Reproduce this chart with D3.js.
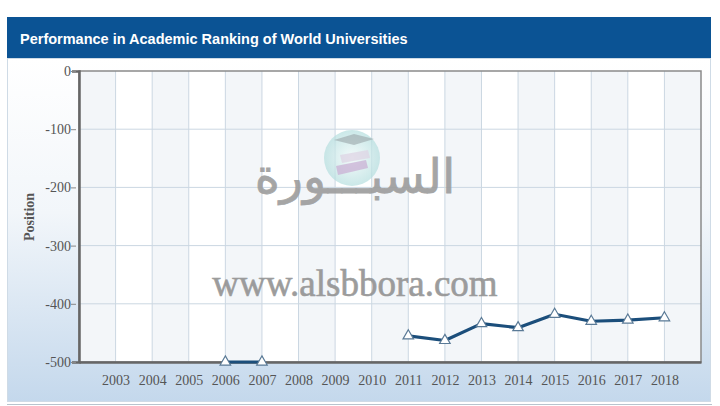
<!DOCTYPE html>
<html>
<head>
<meta charset="utf-8">
<script src="https://cdn.jsdelivr.net/npm/d3@7/dist/d3.min.js"></script>
<style>
  html, body { margin: 0; padding: 0; background: #fff; }
  svg { display: block; }
</style>
</head>
<body>
<svg id="chart" width="720" height="406"></svg>
<script>
// ---- Data ----
const titleText = "Performance in Academic Ranking of World Universities";
const yAxisLabel = "Position";
const years = [2003, 2004, 2005, 2006, 2007, 2008, 2009, 2010, 2011, 2012, 2013, 2014, 2015, 2016, 2017, 2018];
const positions = [null, null, null, -500, -500, null, null, null, -455, -463, -434, -441, -418, -430, -428, -424];
const yTicks = [0, -100, -200, -300, -400, -500];
const watermarkArabic = "السبـــورة";
const watermarkUrl = "www.alsbbora.com";

const svg = d3.select("#chart");
const defs = svg.append("defs");

const grad = defs.append("linearGradient").attr("id", "panelGrad")
  .attr("x1", 0).attr("y1", 0).attr("x2", 0).attr("y2", 1);
grad.append("stop").attr("offset", "0%").attr("stop-color", "#ffffff");
grad.append("stop").attr("offset", "45%").attr("stop-color", "#f2f6fa");
grad.append("stop").attr("offset", "100%").attr("stop-color", "#c4d8ec");

const logoGrad = defs.append("radialGradient").attr("id", "logoGrad");
logoGrad.append("stop").attr("offset", "0%").attr("stop-color", "#eef8f8");
logoGrad.append("stop").attr("offset", "100%").attr("stop-color", "#b4dede");

// ---- Panel & header ----
svg.append("rect").attr("x", 7.5).attr("y", 58.5).attr("width", 703).attr("height", 343)
  .attr("fill", "url(#panelGrad)").attr("stroke", "#cfdbe6");
svg.append("line").attr("x1", 7).attr("x2", 712).attr("y1", 404.5).attr("y2", 404.5)
  .attr("stroke", "#b8c4ce").attr("stroke-width", 1);
svg.append("rect").attr("x", 7).attr("y", 17).attr("width", 704).attr("height", 41)
  .attr("fill", "#0b5394");
svg.append("text").attr("x", 20).attr("y", 44)
  .attr("font-family", "Liberation Sans, Arial, sans-serif").attr("font-weight", "bold")
  .attr("font-size", 14.5).attr("fill", "#ffffff").text(titleText);

// ---- Scales ----
const x = d3.scaleLinear().domain([2002, 2019]).range([79, 701]);
const y = d3.scaleLinear().domain([0, -500]).range([71, 362]);

// plot background and alternating column bands
svg.append("rect").attr("x", x(2002)).attr("y", y(0)).attr("width", x(2019) - x(2002))
  .attr("height", y(-500) - y(0)).attr("fill", "#ffffff");
const bandStarts = [2002].concat(years);
svg.append("g").selectAll("rect").data(bandStarts.filter((d, i) => i % 2 === 0)).join("rect")
  .attr("x", d => x(d)).attr("y", y(0))
  .attr("width", d => x(d + 1) - x(d)).attr("height", y(-500) - y(0))
  .attr("fill", "#f3f6f9");

// gridlines
svg.append("g").selectAll("line").data(years).join("line")
  .attr("x1", d => x(d)).attr("x2", d => x(d))
  .attr("y1", y(0)).attr("y2", y(-500))
  .attr("stroke", "#cbd7e2").attr("stroke-width", 1);
svg.append("g").selectAll("line").data(yTicks.slice(1, -1)).join("line")
  .attr("x1", x(2002)).attr("x2", x(2019))
  .attr("y1", d => y(d)).attr("y2", d => y(d))
  .attr("stroke", "#cbd7e2").attr("stroke-width", 1);

// ---- Watermark ----
const wm = svg.append("g").attr("pointer-events", "none");
wm.append("circle").attr("cx", 352).attr("cy", 158).attr("r", 28)
  .attr("fill", "url(#logoGrad)").attr("opacity", 0.7);
wm.append("path").attr("d", "M336,166 L366,160 L368,168 L338,175 Z")
  .attr("fill", "#c9b0d4").attr("opacity", 0.75);
wm.append("path").attr("d", "M340,155 L368,150 L370,158 L342,163 Z")
  .attr("fill", "#ded4e4").attr("opacity", 0.75);
wm.append("path").attr("d", "M334,140 L354,134 L374,139 L354,145 Z")
  .attr("fill", "#9aa5a8").attr("opacity", 0.6);
wm.append("text").attr("x", 355).attr("y", 193).attr("text-anchor", "middle")
  .attr("font-family", "DejaVu Sans, Noto Sans, sans-serif")
  .attr("font-size", 48).attr("fill", "#9c9c9c").attr("stroke", "#9c9c9c").attr("stroke-width", 0.8)
  .attr("opacity", 0.9).text(watermarkArabic);
wm.append("text").attr("x", 355).attr("y", 296).attr("text-anchor", "middle")
  .attr("font-family", "Liberation Serif, Times New Roman, serif")
  .attr("font-size", 37).attr("fill", "#929292").attr("stroke", "#929292").attr("stroke-width", 0.6)
  .attr("opacity", 0.9).text(watermarkUrl);

// ---- Plot border ----
svg.append("rect").attr("x", x(2002)).attr("y", y(0)).attr("width", x(2019) - x(2002))
  .attr("height", y(-500) - y(0)).attr("fill", "none").attr("stroke", "#8a8a8a").attr("stroke-width", 1.5);

// ---- Axes ----
const hyphenFmt = d => (d < 0 ? "-" + Math.abs(d) : String(d));
const yAxis = svg.append("g").attr("transform", `translate(${x(2002)},0)`)
  .call(d3.axisLeft(y).tickValues(yTicks).tickSize(7).tickPadding(1).tickFormat(hyphenFmt));
yAxis.select(".domain").attr("stroke", "#666").attr("stroke-width", 2.5);
yAxis.selectAll(".tick line").attr("stroke", "#888").attr("stroke-width", 1).attr("x2", -3).attr("x1", -8);
yAxis.selectAll(".tick text").attr("font-family", "Liberation Serif, Times New Roman, serif")
  .attr("font-size", 14).attr("fill", "#555").attr("x", -8);

const xAxis = svg.append("g").attr("transform", `translate(0,${y(-500)})`)
  .call(d3.axisBottom(x).tickValues(years).tickSize(0).tickPadding(13).tickFormat(d3.format("d")));
xAxis.select(".domain").attr("stroke", "#666").attr("stroke-width", 2.5);
xAxis.selectAll(".tick text").attr("font-family", "Liberation Serif, Times New Roman, serif")
  .attr("font-size", 14).attr("fill", "#555");

svg.append("text").attr("transform", "translate(34,217) rotate(-90)").attr("text-anchor", "middle")
  .attr("font-family", "Liberation Serif, Times New Roman, serif").attr("font-weight", "bold")
  .attr("font-size", 14).attr("fill", "#555").text(yAxisLabel);

// ---- Series ----
const pts = years.map((yr, i) => ({ year: yr, value: positions[i] }));
const line = d3.line().defined(d => d.value !== null).x(d => x(d.year)).y(d => y(d.value));
svg.append("path").datum(pts).attr("d", line)
  .attr("fill", "none").attr("stroke", "#1b4e7b").attr("stroke-width", 3.2)
  .attr("stroke-linejoin", "round");
const tri = d3.symbol().type(d3.symbolTriangle).size(48);
svg.append("g").selectAll("path").data(pts.filter(d => d.value !== null)).join("path")
  .attr("transform", d => `translate(${x(d.year)},${y(d.value)})`)
  .attr("d", tri).attr("fill", "#ffffff").attr("stroke", "#5a7a96").attr("stroke-width", 1.2);
</script>
</body>
</html>
